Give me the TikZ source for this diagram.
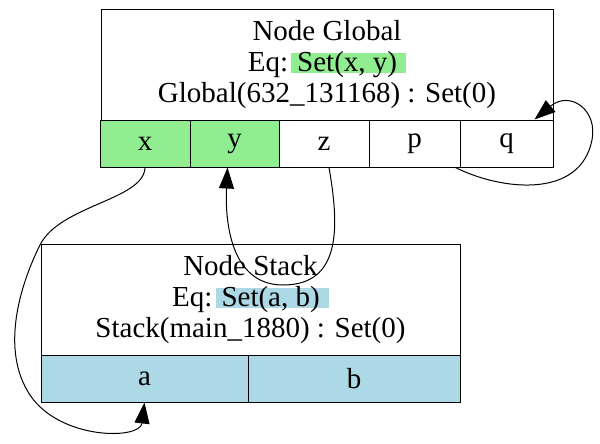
\documentclass[tikz,border=0pt]{standalone}
\usepackage{fontspec}
\setmainfont{Liberation Serif}
\usetikzlibrary{arrows.meta}
\definecolor{vertclair}{HTML}{90EE90}
\definecolor{bleuclair}{HTML}{ADD8E6}
\newsavebox\boitesurl
\newcommand\surligne[2]{\sbox\boitesurl{#2}\makebox[0pt][l]{\textcolor{#1}{\rule[-1.5pt]{\wd\boitesurl}{20pt}}}\usebox\boitesurl}

\begin{document}
\begin{tikzpicture}[x=1pt,y=-1pt]
\tikzstyle{lien}=[-{Triangle[length=21pt,width=15pt]},line width=1pt]
\tikzset{entete/.style={draw,line width=1pt,align=center,inner sep=0pt,font=\fontsize{29}{31}\selectfont},
case/.style={draw,line width=1pt,fill=#1,inner sep=0pt,minimum height=47pt,font=\fontsize{29}{31}\selectfont},
case/.default={white}}
\useasboundingbox (0,0) rectangle (600,444);

\node[entete,minimum width=452pt,minimum height=110pt] (G) at (327,65) {Node Global\\Eq:\hspace{3pt}\surligne{vertclair}{\hspace{6pt}Set(x, y)\hspace{9pt}}\\Global(632\_131168) : Set(0)};
\node[case=vertclair,minimum width=90pt] (Gx) at (145,143.5) {x};
\node[case=vertclair,minimum width=89pt] (Gy) at (234.5,143.5) {y};
\node[case,minimum width=90pt] (Gz) at (324,143.5) {z};
\node[case,minimum width=91pt] (Gp) at (414.5,143.5) {p};
\node[case,minimum width=93pt] (Gq) at (506.5,143.5) {q};

\node[entete,minimum width=419pt,minimum height=111pt] (S) at (250.5,299.5) {Node Stack\\Eq:\hspace{3pt}\surligne{bleuclair}{\hspace{6pt}Set(a, b)\hspace{9pt}}\\Stack(main\_1880) : Set(0)};
\node[case=bleuclair,minimum width=207pt] (Sa) at (144.5,378.5) {a};
\node[case=bleuclair,minimum width=212pt] (Sb) at (354,378.5) {b};

\draw[lien] (Gx.south) .. controls (144,200) and (60,205) .. (40,245) .. controls (20,285) and (0,350) .. (30,395) .. controls (60,440) and (140,440) .. (Sa.south);
\draw[lien] ([xshift=5pt]Gz.south) .. controls (340,230) and (340,285) .. (283,285) .. controls (230,285) and (225,220) .. ([xshift=-7pt]Gy.south);
\draw[lien] ([xshift=-5pt]Gp.south east) .. controls (500,190) and (580,200) .. (592,140) .. controls (598,110) and (570,90) .. ([xshift=28pt]Gq.north);

\end{tikzpicture}
\end{document}
